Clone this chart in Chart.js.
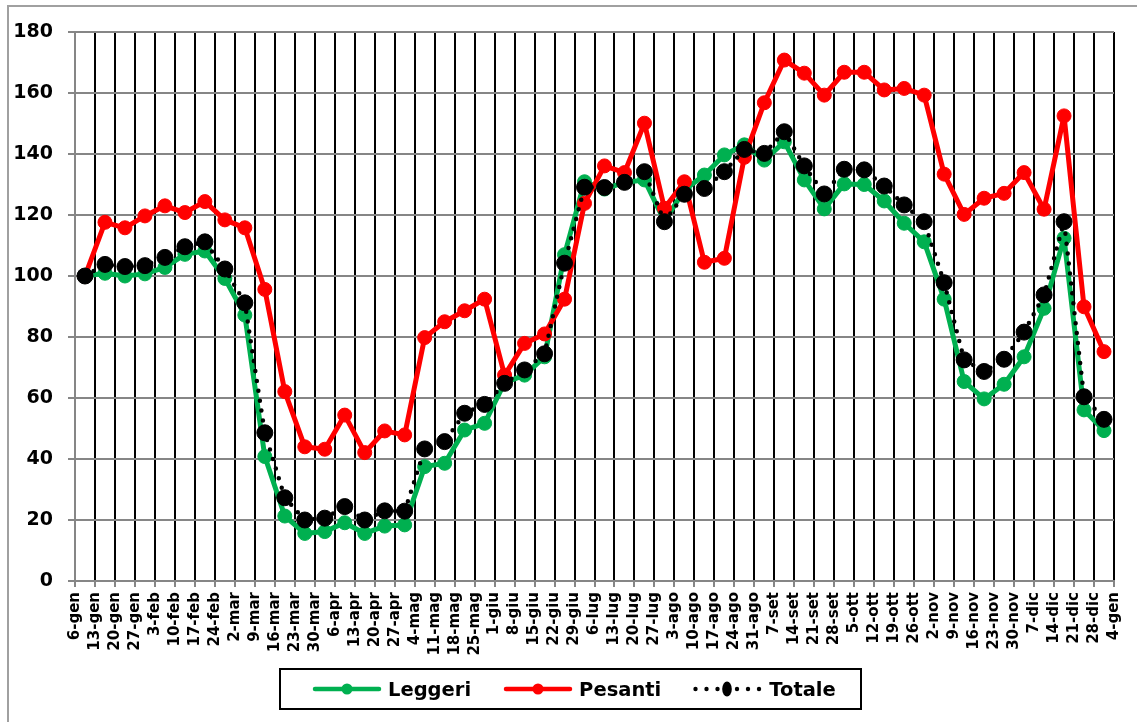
<!DOCTYPE html>
<html lang="it">
<head>
<meta charset="utf-8">
<title>Leggeri, Pesanti, Totale</title>
<script src="https://cdn.jsdelivr.net/npm/chart.js@4"></script>
<style>
  body { margin: 0; background: #fff; }
  .frame {
    position: absolute; left: 7px; top: 5px; width: 1200px; height: 800px;
    border-left: 2px solid #a0a0a0; border-top: 2px solid #a0a0a0;
  }
  canvas { position: absolute; left: 0; top: 0; }
  .legend {
    position: absolute; left: 279px; top: 668px; width: 583px; height: 42px;
    box-sizing: border-box; border: 2px solid #000;
    display: flex; align-items: center; padding-left: 31px;
    font: bold 19.5px 'DejaVu Sans', sans-serif; color: #000;
  }
  .legend .item { display: flex; align-items: center; margin-right: 32px; }
  .legend svg { margin-right: 6px; }
</style>
</head>
<body>
<div class="frame"></div>
<canvas id="chart" width="1137" height="722"></canvas>
<div class="legend" id="legend"></div>
<script>
const weeks = [
  '6-gen', '13-gen', '20-gen', '27-gen', '3-feb', '10-feb', '17-feb', '24-feb',
  '2-mar', '9-mar', '16-mar', '23-mar', '30-mar', '6-apr', '13-apr', '20-apr',
  '27-apr', '4-mag', '11-mag', '18-mag', '25-mag', '1-giu', '8-giu', '15-giu',
  '22-giu', '29-giu', '6-lug', '13-lug', '20-lug', '27-lug', '3-ago', '10-ago',
  '17-ago', '24-ago', '31-ago', '7-set', '14-set', '21-set', '28-set', '5-ott',
  '12-ott', '19-ott', '26-ott', '2-nov', '9-nov', '16-nov', '23-nov', '30-nov',
  '7-dic', '14-dic', '21-dic', '28-dic', '4-gen',
]

const leggeri = [
  100, 100.9, 100, 100.7, 102.8, 107.1, 108.2, 99.2, 87.2, 40.8,
  21.3, 15.6, 16.2, 19.1, 15.6, 18, 18.4, 37.5, 38.6, 49.5,
  51.7, 65, 67.5, 73.5, 107, 130.9, 128.5, 130.7, 131.5, 118,
  128.2, 133.1, 139.7, 143, 138, 144, 131.5, 122, 130.2, 130,
  124.6, 117.3, 111.2, 92.4, 65.4, 59.7, 64.5, 73.5, 89.4, 112.4,
  56.1, 49.3,
]

const pesanti = [
  100, 117.6, 115.8, 119.7, 123, 120.8, 124.4, 118.4, 115.8, 95.6,
  62.1, 44, 43.2, 54.4, 42.1, 49.2, 47.9, 79.8, 85, 88.6,
  92.4, 67.5, 77.9, 81, 92.4, 123.8, 136.1, 133.9, 150.1, 122.2,
  130.9, 104.5, 105.8, 138.9, 156.8, 170.8, 166.5, 159.3, 166.8, 166.8,
  161, 161.5, 159.3, 133.4, 120.2, 125.5, 127.1, 133.9, 121.9, 152.5,
  89.9, 75.2,
]

const totale = [
  100, 103.8, 103.1, 103.4, 106.1, 109.6, 111.2, 102.3, 91.2, 48.6,
  27.3, 20, 20.6, 24.4, 20, 23, 22.9, 43.3, 45.7, 55,
  57.9, 64.8, 69.2, 74.5, 104.2, 129.1, 129, 130.7, 134.2, 117.8,
  126.8, 128.7, 134.2, 141.5, 140.2, 147.3, 136.1, 126.9, 135, 134.8,
  129.5, 123.3, 117.8, 97.8, 72.5, 68.7, 72.7, 81.6, 93.8, 117.8,
  60.4, 53,
]

const GREEN = '#00b050'
const RED = '#ff0000'
const BLACK = '#000000'
const GRID = '#868686'

Chart.defaults.font.family = "'DejaVu Sans', sans-serif"

// each week's value sits between its two date ticks
const midWeek = (values) => values.map((y, i) => ({ x: i + 0.5, y }))

const series = [
  { label: 'Leggeri', data: midWeek(leggeri), color: GREEN, dotted: false, order: 3 },
  { label: 'Pesanti', data: midWeek(pesanti), color: RED, dotted: false, order: 2 },
  { label: 'Totale', data: midWeek(totale), color: BLACK, dotted: true, order: 1 },
]

const datasets = series.map((s) => ({
  label: s.label,
  data: s.data,
  order: s.order,
  borderColor: s.color,
  backgroundColor: s.color,
  borderWidth: s.dotted ? 4.5 : 5,
  borderDash: s.dotted ? [0, 10] : [],
  borderCapStyle: 'round',
  borderJoinStyle: 'round',
  pointRadius: s.dotted ? 8 : 7,
  pointBorderWidth: 1,
  tension: 0,
}))

new Chart(document.getElementById('chart'), {
  type: 'line',
  data: { datasets },
  options: {
    responsive: false,
    animation: false,
    layout: { padding: { top: 32, right: 11, left: 0, bottom: 0 } },
    plugins: {
      legend: { display: false },
      tooltip: { enabled: false },
    },
    scales: {
      x: {
        type: 'linear',
        min: 0,
        max: 52,
        afterFit: (scale) => { scale.height = 141 },
        ticks: {
          stepSize: 1,
          autoSkip: false,
          minRotation: 90,
          maxRotation: 90,
          padding: 5,
          color: BLACK,
          font: { size: 15, weight: 'bold' },
          callback: (v) => weeks[Math.round(v)],
        },
        grid: {
          color: (ctx) => (ctx.index === 0 ? GRID : BLACK),
          lineWidth: 2,
          tickLength: 6,
          tickColor: GRID,
        },
        border: { color: GRID, width: 2 },
      },
      y: {
        min: 0,
        max: 180,
        afterFit: (scale) => { scale.width = 75 },
        ticks: {
          stepSize: 20,
          padding: 15,
          color: BLACK,
          font: { size: 19, weight: 'bold' },
        },
        grid: { color: GRID, lineWidth: 2, tickLength: 7 },
        border: { color: GRID, width: 2 },
      },
    },
  },
})

// legend swatches: line with a marker, or dots around a marker for Totale
function swatch(s) {
  if (s.dotted) {
    const dots = [2.5, 13.5, 24.5, 44, 55, 66]
      .map((x) => `<circle cx="${x}" cy="10" r="2.2" fill="${s.color}"/>`)
      .join('')
    return `<svg width="70" height="20">${dots}<ellipse cx="34" cy="10" rx="4.8" ry="7.5" fill="${s.color}"/></svg>`
  }
  return `<svg width="70" height="20">
    <line x1="3" y1="10" x2="67" y2="10" stroke="${s.color}" stroke-width="4.5" stroke-linecap="round"/>
    <circle cx="35" cy="10" r="5.5" fill="${s.color}"/></svg>`
}

document.getElementById('legend').innerHTML = series
  .map((s) => `<div class="item">${swatch(s)}<span>${s.label}</span></div>`)
  .join('')
</script>
</body>
</html>
